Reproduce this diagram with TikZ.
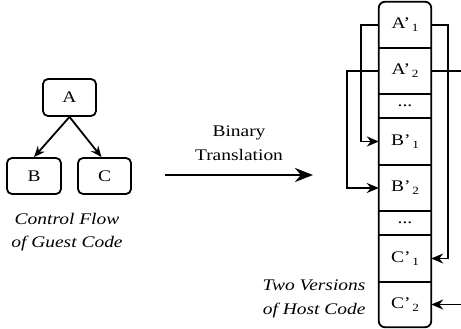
\documentclass[tikz,border=0pt]{standalone}
\usepackage{fontspec}
\setmainfont{Liberation Serif}[FakeStretch=1.2]
\usetikzlibrary{arrows.meta}
\newcommand{\txt}{\fontsize{16.2}{23.5}\selectfont}
\newcommand{\sbs}[1]{\raisebox{-3pt}{\fontsize{11}{11}\selectfont\,#1}}
\tikzset{
  blk/.style={draw, line width=1.8pt, rounded corners=5pt, minimum width=53pt, minimum height=37pt, inner sep=0pt},
  cell/.style={minimum width=52pt, inner sep=0pt},
  link/.style={line width=1.8pt, -{Stealth[length=12pt,width=10pt]}},
  note/.style={font=\txt\itshape, align=center}
}

\begin{document}
\begin{tikzpicture}[x=1pt, y=-1pt, font=\txt]
			%%%%% START %%%%%
			\useasboundingbox (0, 0) rectangle (461, 329);
			
			% guest code
			\node[blk] (A) at (69.5, 97.5) {A};
			\node[blk, minimum width=54pt, minimum height=36pt] (B) at (34, 176) {B};
			\node[blk, minimum width=53pt, minimum height=36pt] (C) at (104.5, 176) {C};
			\draw[line width=1.8pt, -{Stealth[length=11pt,width=9pt]}] (A.south) -- (B.north);
			\draw[line width=1.8pt, -{Stealth[length=11pt,width=9pt]}] (A.south) -- ([xshift=-3pt]C.north);
			\node[note] (guest) at (67, 232) {Control Flow\\of Guest Code};
			
			% translation
			\coordinate (tl) at (165, 175);
			\coordinate (tr) at (313, 175);
			\draw[line width=2.6pt, -{Stealth[length=18pt,width=14pt]}] (tl) -- (tr);
			\node[align=center] (bt) at (239, 143) {Binary\\Translation};
			
			% host code
			\node[cell, minimum height=46pt] (a1) at (405, 25) {A’\sbs{1}};
			\node[cell, minimum height=46pt] (a2) at (405, 71) {A’\sbs{2}};
			\node[cell, minimum height=24pt] (d1) at (405, 106) {...};
			\node[cell, minimum height=47pt] (b1) at (405, 141.5) {B’\sbs{1}};
			\node[cell, minimum height=46pt] (b2) at (405, 188) {B’\sbs{2}};
			\node[cell, minimum height=24pt] (d2) at (405, 223) {...};
			\node[cell, minimum height=47pt] (c1) at (405, 258.5) {C’\sbs{1}};
			\node[cell, minimum height=45pt] (c2) at (405, 304.5) {C’\sbs{2}};
			
			\draw[line width=1.8pt, rounded corners=6pt] (a1.north west) rectangle (c2.south east);
			\foreach \r in {a1, a2, d1, b1, b2, d2, c1}
				\draw[line width=1.8pt] (\r.south west) -- (\r.south east);
			
			\draw[link] (a1.west) -- ++(-18, 0) |- (b1.west);
			\draw[link] (a2.west) -- ++(-32, 0) |- (b2.west);
			\draw[link] (a1.east) -- ++(17, 0) |- (c1.east);
			\coordinate (out) at (461, 71);
			\draw[line width=1.8pt] (a2.east) -- (out);
			\coordinate (in) at (461, 304.5);
			\draw[link] (in) -- (c2.east);
			
			\node[note, align=right, anchor=east] (host) at (369, 299) {Two Versions\\of Host Code};
			
			%%%%% END %%%%%
		\end{tikzpicture}
\end{document}
